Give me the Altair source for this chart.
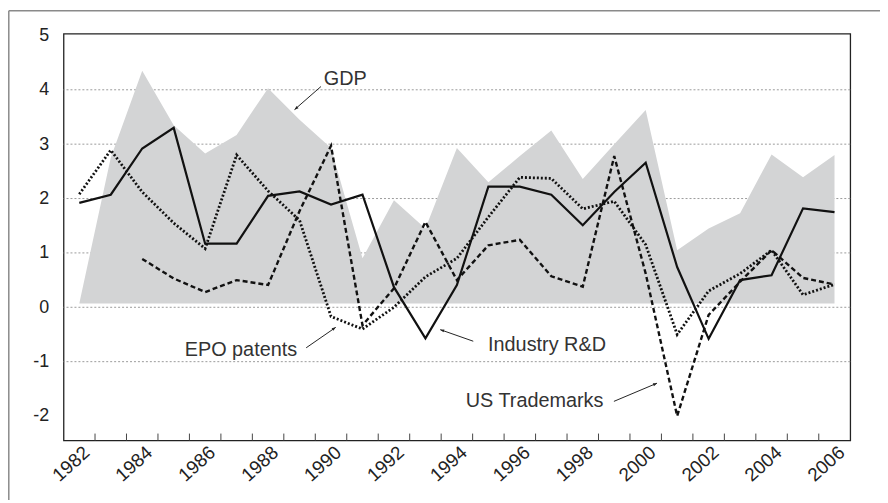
import math
import altair as alt
import pandas as pd

# ---------------- data ----------------
YEARS = list(range(1982, 2007))
GDP = [0.07, 2.75, 4.35, 3.35, 2.83, 3.17, 4.03, 3.45, 2.93, 0.90, 1.97, 1.45, 2.93,
       2.30, 2.78, 3.25, 2.36, 3.00, 3.63, 1.05, 1.45, 1.73, 2.81, 2.39, 2.80]
INDUSTRY_RD = [1.92, 2.07, 2.92, 3.30, 1.17, 1.17, 2.05, 2.13, 1.89, 2.07, 0.37, -0.57, 0.41,
               2.22, 2.22, 2.07, 1.51, 2.12, 2.66, 0.74, -0.58, 0.50, 0.59, 1.82, 1.75]
EPO_PATENTS = [2.08, 2.89, 2.12, 1.55, 1.08, 2.80, 2.14, 1.60, -0.17, -0.40, 0.00, 0.56, 0.90,
               1.66, 2.39, 2.37, 1.81, 1.95, 1.15, -0.50, 0.30, 0.62, 1.05, 0.23, 0.42]
US_TRADEMARKS = [None, None, 0.89, 0.53, 0.28, 0.50, 0.41, 1.77, 2.97, -0.33, 0.35, 1.57, 0.50,
                 1.14, 1.24, 0.57, 0.38, 2.78, 0.62, -2.00, -0.14, 0.47, 1.05, 0.54, 0.42]
GDP_BASE = 0.07

Y_TICKS = [-2, -1, 0, 1, 2, 3, 4, 5]
GRID_VALUES = [-1, 0, 1, 2, 3, 4]
X_LABELS = list(range(1982, 2007, 2))
X_TICKS = [y + 0.5 for y in range(1982, 2006)]

ANN_TEXT = ["GDP", "EPO patents", "Industry R&D", "US Trademarks"]
ANN_X = [1989.77, 1985.35, 1994.99, 1994.28]
ANN_Y = [4.09, -0.90, -0.81, -1.84]
ARROW_X0 = [1989.68, 1989.21, 1994.52, 1998.99]
ARROW_Y0 = [4.06, -0.745, -0.624, -1.730]
ARROW_X1 = [1988.84, 1990.15, 1993.47, 2000.36]
ARROW_Y1 = [3.635, -0.369, -0.411, -1.396]

# ---------------- layout ----------------
W, H = 793, 410
PAD = {"left": 56, "top": 24, "right": 30, "bottom": 60}
XDOM = [1981.5, 2006.5]
YDOM = [-2.45, 5.03]
PX_X = W / (XDOM[1] - XDOM[0])
PX_Y = H / (YDOM[1] - YDOM[0])
FONT = "Liberation Sans"

xscale = alt.Scale(domain=XDOM, nice=False, zero=False)
yscale = alt.Scale(domain=YDOM, nice=False, zero=False)
xaxis = alt.Axis(values=X_LABELS, format="d", grid=False, ticks=False, tickSize=0, domain=False,
                 labelAngle=318, labelAlign="right", labelBaseline="middle",
                 labelOffset=7, labelPadding=9, labelFontSize=19, labelFont=FONT,
                 labelColor="#222", title=None, labelOverlap=False)
yaxis = alt.Axis(values=Y_TICKS, grid=False, ticks=False, tickSize=0, domain=False,
                 labelExpr="'' + datum.value",
                 labelPadding=15, labelFontSize=18, labelFont=FONT, labelColor="#222",
                 title=None)


def X(f):
    return alt.X(f, scale=xscale, axis=xaxis)


def Y(f):
    return alt.Y(f, scale=yscale, axis=yaxis)


series = pd.DataFrame({"year": YEARS, "gdp": GDP, "rd": INDUSTRY_RD,
                       "epo": EPO_PATENTS, "tm": US_TRADEMARKS, "base": GDP_BASE})
grid_df = pd.DataFrame({"v": GRID_VALUES})
tick_df = pd.DataFrame({"t": X_TICKS})
ann_df = pd.DataFrame({"label": ANN_TEXT, "ax": ANN_X, "ay": ANN_Y})

angles = []
for x0, y0, x1, y1 in zip(ARROW_X0, ARROW_Y0, ARROW_X1, ARROW_Y1):
    dx = (x1 - x0) * PX_X
    dy = -(y1 - y0) * PX_Y
    ang = math.degrees(math.atan2(dx, -dy)) % 360
    angles.append(ang)
arrow_df = pd.DataFrame({"x0": ARROW_X0, "y0": ARROW_Y0, "x1": ARROW_X1, "y1": ARROW_Y1,
                         "ang": angles})

grid = alt.Chart(grid_df).mark_rule(color="#9a9a9a", strokeWidth=1, strokeDash=[2, 2]).encode(
    y=Y("v:Q"))

area = alt.Chart(series).mark_area(color="#d3d4d5", opacity=1).encode(
    x=X("year:Q"), y=Y("gdp:Q"), y2="base:Q")

tm = alt.Chart(series).transform_filter("datum.tm != null").mark_line(
    color="#111", strokeWidth=2.4, strokeDash=[5, 3]).encode(
    x=X("year:Q"), y=Y("tm:Q"))

epo = alt.Chart(series).mark_line(
    color="#111", strokeWidth=2.8, strokeDash=[2, 2]).encode(
    x=X("year:Q"), y=Y("epo:Q"))

rd = alt.Chart(series).mark_line(color="#111", strokeWidth=2.2).encode(
    x=X("year:Q"), y=Y("rd:Q"))

ticks = alt.Chart(tick_df).mark_rule(color="#444", strokeWidth=1).encode(
    x=X("t:Q"), y=alt.value(H), y2=alt.value(H - 7))

arrow_lines = alt.Chart(arrow_df).mark_rule(color="#222", strokeWidth=1).encode(
    x=X("x0:Q"), y=Y("y0:Q"), x2="x1:Q", y2="y1:Q")

arrow_heads = alt.Chart(arrow_df).mark_point(
    shape="M0,0L-0.38,1L0.38,1Z", filled=True, color="#222", size=64, opacity=1).encode(
    x=X("x1:Q"), y=Y("y1:Q"), angle=alt.Angle("ang:Q", scale=None))

texts = alt.Chart(ann_df).mark_text(
    align="left", baseline="alphabetic", font=FONT, fontSize=20, color="#333").encode(
    x=X("ax:Q"), y=Y("ay:Q"), text="label:N")

# outer frame (top and left edges of the figure box)
frame_top = alt.Chart(grid_df.head(1)).mark_rule(color="#8a8a8a", strokeWidth=1.5).encode(
    x=alt.value(-PAD["left"] + 0.8), x2=alt.value(W + PAD["right"]), y=alt.value(-PAD["top"] + 0.8))
frame_left = alt.Chart(grid_df.head(1)).mark_rule(color="#8a8a8a", strokeWidth=1.5).encode(
    x=alt.value(-PAD["left"] + 0.8), y=alt.value(-PAD["top"] + 0.8), y2=alt.value(H + PAD["bottom"]))

chart = alt.layer(grid, area, tm, epo, rd, ticks, arrow_lines, arrow_heads, texts,
                  frame_top, frame_left).properties(
    width=W, height=H,
    autosize=alt.AutoSizeParams(type="none"),
    padding=PAD,
    background="white",
).configure_view(stroke="#222", strokeWidth=1.3)

chart.save("out.html", embed_options={"renderer": "svg", "actions": False})
